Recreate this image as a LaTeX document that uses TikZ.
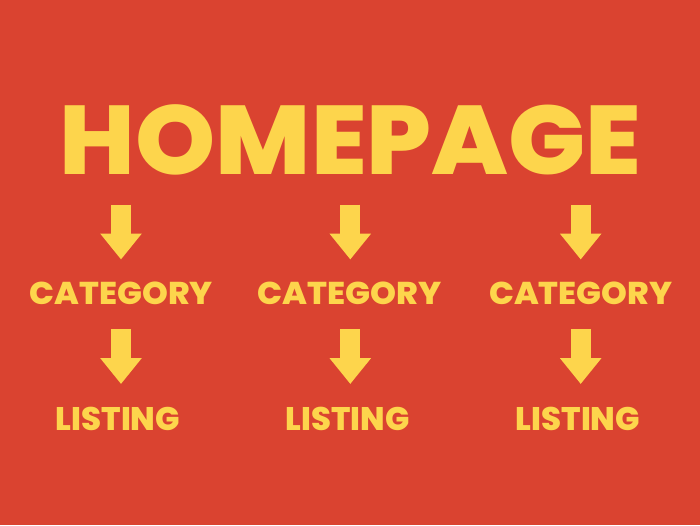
\documentclass[tikz,border=0pt]{standalone}
\usepackage{fontspec}
\setmainfont{Poppins}
\newfontfamily\heavyfont{Poppins ExtraBold}
\usepackage{graphicx}
\usetikzlibrary{arrows.meta}
\definecolor{bgred}{RGB}{218,67,48}
\definecolor{ylw}{RGB}{253,213,76}
\tikzset{
  lbl/.style={inner sep=0pt, outer sep=0pt, text=ylw, font=\heavyfont},
  blockarrow/.style={draw=ylw, line width=20pt, line cap=butt,
    -{Triangle[width=40pt,length=26pt]}, ylw}
}
\newcommand{\fitbox}[3]{\resizebox*{#1}{#2}{#3}}
\begin{document}
\begin{tikzpicture}[x=1pt,y=-1pt]
\fill[bgred] (0,0) rectangle (700,525);
\useasboundingbox (0,0) rectangle (700,525);

\node[lbl] (home) at (350.8,139.5) {\fitbox{581.7pt}{70.5pt}{HOMEPAGE}};

\node[lbl] (cat1) at (121.4,292.9) {\fitbox{183pt}{22.8pt}{CATEGORY}};
\node[lbl] (cat2) at (349.5,292.9) {\fitbox{184pt}{22.8pt}{CATEGORY}};
\node[lbl] (cat3) at (580.6,292.9) {\fitbox{183pt}{22.8pt}{CATEGORY}};

\node[lbl] (lst1) at (117.9,419) {\fitbox{124.3pt}{23.6pt}{LISTING}};
\node[lbl] (lst2) at (347.5,419) {\fitbox{123.6pt}{23.6pt}{LISTING}};
\node[lbl] (lst3) at (577.9,419) {\fitbox{124.3pt}{23.6pt}{LISTING}};

\foreach \i/\x in {1/121, 2/350.3, 3/580.7}{
  \coordinate (a\i s) at (\x,204.5);
  \coordinate (a\i e) at (\x,259.5);
  \coordinate (b\i s) at (\x,329);
  \coordinate (b\i e) at (\x,384);
}
\draw[blockarrow] (a1s) -- (a1e);
\draw[blockarrow] (a2s) -- (a2e);
\draw[blockarrow] (a3s) -- (a3e);
\draw[blockarrow] (b1s) -- (b1e);
\draw[blockarrow] (b2s) -- (b2e);
\draw[blockarrow] (b3s) -- (b3e);
\end{tikzpicture}
\end{document}
